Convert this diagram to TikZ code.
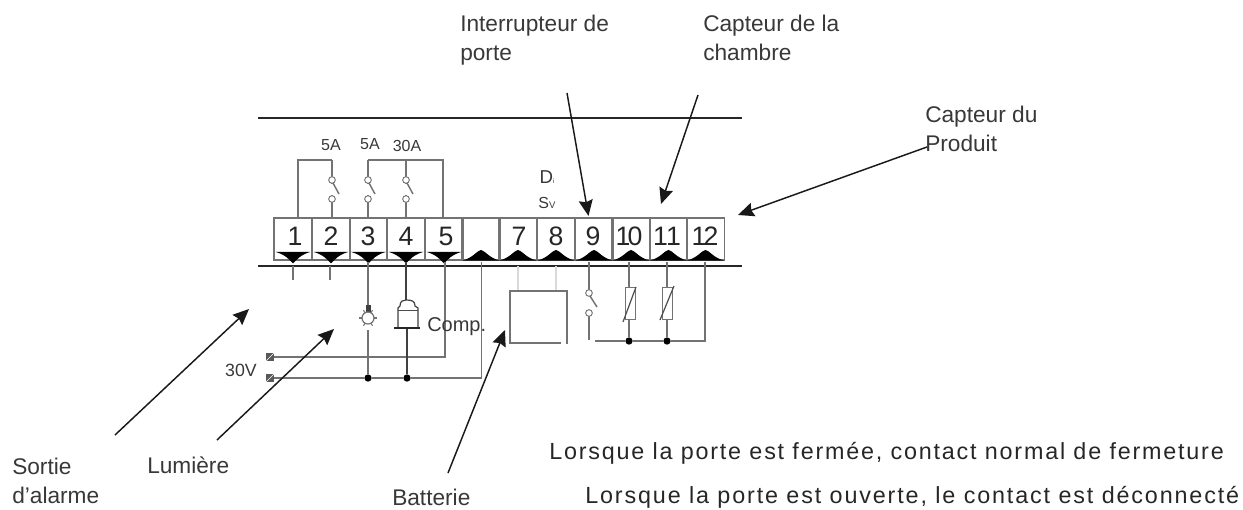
\documentclass[tikz,border=0pt]{standalone}
\usepackage{fontspec}
\setmainfont{Liberation Sans}
\newfontfamily\widefont[LetterSpace=7.7]{Liberation Sans}
\newfontfamily\widerfont[LetterSpace=8]{Liberation Sans}
\usetikzlibrary{arrows.meta}
\definecolor{wiregray}{gray}{0.45}
\definecolor{textgray}{gray}{0.22}
\tikzset{
  x=0.75pt,y=-0.75pt,
  term/.style={draw=wiregray,line width=0.9pt,minimum width=28.5pt,minimum height=31.5pt,inner sep=0pt},
  digit/.style={inner sep=0pt,text=black!85,font=\fontsize{20}{22}\selectfont},
  wire/.style={draw=wiregray,line width=1.1pt},
  blackwire/.style={draw=black!75,line width=1.1pt},
  faint/.style={draw=black!15,line width=0.8pt},
  rail/.style={draw=black!85,line width=1.5pt},
  contact/.style={circle,draw=wiregray,fill=white,line width=0.7pt,minimum size=5pt,inner sep=0pt},
  joint/.style={circle,fill=black,minimum size=5.5pt,inner sep=0pt},
  screw/.style={rectangle,fill=black!65,minimum size=5.5pt,inner sep=0pt},
  callout/.style={draw=black!90,line width=1.1pt,-{Stealth[length=12pt,width=10.5pt,inset=1.5pt]}},
  lbl/.style={anchor=north west,inner sep=0pt,align=left,text=textgray,font=\fontsize{17}{21.75}\selectfont},
  small/.style={inner sep=0pt,text=textgray,font=\fontsize{12}{14}\selectfont},
  wide/.style={anchor=west,inner sep=0pt,text=black!85,font=\widefont\fontsize{17.5}{20}\selectfont},
  wider/.style={anchor=west,inner sep=0pt,text=black!85,font=\widerfont\fontsize{17.5}{20}\selectfont},
  therm/.style={draw=wiregray,fill=white,line width=0.8pt,minimum width=7pt,minimum height=24.5pt,inner sep=0pt},
}
\begin{document}
\begin{tikzpicture}
\useasboundingbox (0,0) rectangle (1243,510);
% rails
\coordinate (ra) at (258,118); \coordinate (rb) at (742,118);
\coordinate (rc) at (258,266); \coordinate (rd) at (742,266);
\draw[rail] (ra) -- (rb);
% terminals
\foreach \n/\xc in {1/293,2/331,3/368.5,4/406,5/444,6/481,7/518,8/556,9/594,10/631,11/668.5,12/705.5}{
  \node[term] (t\n) at (\xc,239) {};
}
\foreach \n/\xd/\t in {1/295/1,2/331/2,3/368/3,4/406/4,5/446/5,7/519/7,8/556/8,9/593/9,10/629/1\kern-2pt 0,11/667/1\kern-1.5pt 1,12/705/1\kern-2pt 2}{
  \node[digit] (n\n) at (\xd,236) {\t};
}
% triangles
\foreach \n in {1,...,5}{
  \fill[black] ([xshift=-13pt,yshift=6.5pt]t\n.south) -- ([xshift=13pt,yshift=6.5pt]t\n.south)
   .. controls ([xshift=6pt,yshift=4.5pt]t\n.south) and ([xshift=3pt,yshift=1pt]t\n.south) .. ([yshift=-2pt]t\n.south)
   .. controls ([xshift=-3pt,yshift=1pt]t\n.south) and ([xshift=-6pt,yshift=4.5pt]t\n.south) .. cycle;
}
\foreach \n in {6,...,12}{
  \fill[black] ([xshift=-14pt]t\n.south) .. controls ([xshift=-6pt,yshift=2pt]t\n.south) and ([xshift=-3pt,yshift=7.5pt]t\n.south) .. ([yshift=8pt]t\n.south)
   .. controls ([xshift=3pt,yshift=7.5pt]t\n.south) and ([xshift=6pt,yshift=2pt]t\n.south) .. ([xshift=14pt]t\n.south) -- cycle;
}
\draw[rail] (rc) -- (rd);
% upper relay contacts
\foreach \n/\xc in {a/332,b/368,c/406}{
  \coordinate (top\n) at (\xc,160);
  \draw[wire] (top\n) -- (\xc,218);
  \node[contact] (u\n) at (\xc,180) {};
  \node[contact] (l\n) at (\xc,199) {};
  \fill[white] (\xc-1.5,184) rectangle (\xc+0.7,195);
  \draw[wire] (\xc+1,183) -- (\xc+7,194);
}
\coordinate (c1a) at (298,218); \coordinate (c1b) at (298,160);
\draw[wire] (c1a) -- (c1b) -- (topa);
\coordinate (c5a) at (443,218); \coordinate (c5b) at (443,160);
\draw[wire] (topb) -- (c5b) -- (c5a);
\node[small] (a1) at (331,145) {5A};
\node[small] (a2) at (370,144) {5A};
\node[small] (a3) at (407,146) {30A};
% stubs
\coordinate (s1) at (293,280); \coordinate (s1t) at (293,266);
\coordinate (s2) at (330,280); \coordinate (s2t) at (330,266);
\draw[wire] (s1t) -- (s1); \draw[wire] (s2t) -- (s2);
% supply terminals and buses
\node[screw] (p1) at (270,357) {};
\node[screw] (p2) at (270,378) {};
\draw[white,line width=0.5pt] (p1.south west) -- (p1.north east);
\draw[white,line width=0.5pt] (p2.south west) -- (p2.north east);
\node[joint] (j1) at (368,378) {};
\node[joint] (j2) at (407,378) {};
\coordinate (b5) at (445,357); \coordinate (t5b) at (445,262);
\coordinate (b6) at (481.5,378); \coordinate (t6b) at (481.5,262);
\draw[wire] (t5b) -- (b5) -- (p1);
\draw[wire] (p2) -- (j1) -- (j2) -- (b6) -- (t6b);
% lamp
\coordinate (t3b) at (368,262);
\draw[wire] (t3b) -- (368,306);
\draw[wire] (368,330) -- (j1);
\fill[black!75] (365.5,305) rectangle (370.5,312);
\draw[wiregray,line width=0.9pt,fill=white] (368,318) circle (6);
\foreach \a in {0,60,120,180,240,300}{\draw[wiregray,line width=0.8pt] (368,318) ++(\a:6) -- ++(\a:3);}
% compressor
\coordinate (t4b) at (406,262);
\draw[blackwire] (t4b) -- (406,300);
\draw[blackwire] (407,327) -- (j2);
\draw[black!75,line width=0.9pt,fill=white] (398,327) -- (398,308) -- (400,306) .. controls (400,301) and (403,300) .. (406,300) .. controls (412,300) and (415,301) .. (415,306) -- (418,308) -- (418,327);
\draw[black!70,line width=0.7pt] (398,310) -- (418,310);
\draw[black!85,line width=1.6pt] (394,328) -- (420,328);
\node[lbl,anchor=west,font=\fontsize{15}{17}\selectfont] (comp) at (427,327) {Comp.};
\node[small,font=\fontsize{13.3}{15}\selectfont] (v30) at (241,370) {30V};
% digital input box
\coordinate (s7a) at (518,266); \coordinate (s7b) at (518,291);
\coordinate (s8a) at (556,266); \coordinate (s8b) at (556,291);
\draw[faint] (s7a) -- (s7b); \draw[faint] (s8a) -- (s8b);
\coordinate (bxa) at (561,343); \coordinate (bxb) at (510,343); \coordinate (bxc) at (510,291); \coordinate (bxd) at (567,291); \coordinate (bxe) at (567,344);
\draw[wire] (bxa) -- (bxb) -- (bxc) -- (bxd) -- (bxe);
\node[small,font=\fontsize{14}{16}\selectfont] (di) at (547,177) {D\scalebox{.35}{i}};
\node[small] (sv) at (547,203) {S\scalebox{.6}{V}};
% door switch
\coordinate (t9b) at (589,262); \coordinate (t9c) at (589,340);
\draw[wire] (t9b) -- (t9c);
\fill[white] (586,296) rectangle (592,311);
\node[contact] (d1) at (589,293) {};
\node[contact] (d2) at (589,313) {};
\draw[wire] (590,296) -- (597,307);
% sensors
\node[joint] (j3) at (629,341) {};
\node[joint] (j4) at (667,341) {};
\coordinate (b0) at (595,341); \coordinate (b12) at (705,341); \coordinate (t12b) at (705,262);
\draw[wire] (b0) -- (j3) -- (j4) -- (b12) -- (t12b);
\coordinate (t10b) at (629,262); \coordinate (t11b) at (667,262);
\draw[wire] (t10b) -- (j3);
\draw[wire] (t11b) -- (j4);
\node[therm] (r1) at (630.5,303.5) {};
\node[therm] (r2) at (667.5,303.5) {};
\draw[black!70,line width=0.9pt] (623,322) -- (636,287);
\draw[black!70,line width=0.9pt] (660,320) -- (674,286);
% labels
\node[lbl] (l1) at (460,14.5) {Interrupteur de\\porte};
\node[lbl] (l2) at (703,14.5) {Capteur de la\\chambre};
\node[lbl] (l3) at (925,105.5) {Capteur du\\Produit};
\node[lbl] (l4) at (12,457.5) {Sortie\\d'alarme};
\node[lbl] (l5) at (147,456.5) {Lumière};
\node[lbl] (l6) at (392,488.5) {Batterie};
\node[wide] (w1) at (549,453) {Lorsque la porte est fermée, contact normal de fermeture};
\node[wider] (w2) at (585,497) {Lorsque la porte est ouverte, le contact est déconnecté};
% callouts
\coordinate (f1) at (115,435); \coordinate (e1) at (249,309);
\coordinate (f2) at (217,440); \coordinate (e2) at (334,329);
\coordinate (f3) at (448,473); \coordinate (e3) at (505,330);
\coordinate (f4) at (567,93);  \coordinate (e4) at (588.5,216);
\coordinate (f5) at (698,95);  \coordinate (e5) at (661,204);
\coordinate (f6) at (927,147); \coordinate (e6) at (738,215);
\foreach \n in {1,...,6}{\draw[callout] (f\n) -- (e\n);}
\end{tikzpicture}
\end{document}
